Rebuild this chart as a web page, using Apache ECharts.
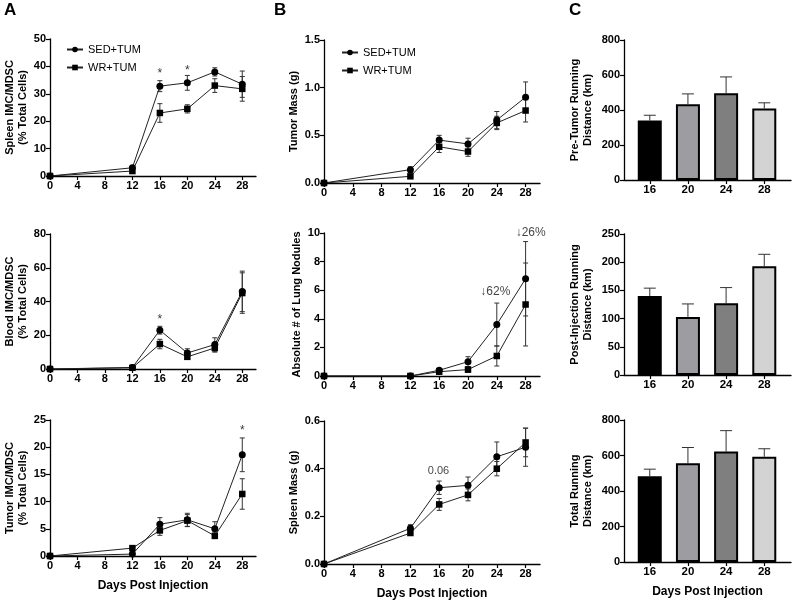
<!DOCTYPE html>
<html>
<head>
<meta charset="utf-8">
<script src="https://cdn.jsdelivr.net/npm/echarts@6/dist/echarts.min.js"></script>
<style>
html, body { margin: 0; padding: 0; background: #fff; }
#chart { width: 794px; height: 602px; }
</style>
</head>
<body>
<div id="chart"></div>
<script>
// time course, days post injection
const days = [0, 12, 16, 20, 24, 28];
const dayTicks = [0, 4, 8, 12, 16, 20, 24, 28];

// A - IMC/MDSC (% total cells)
const spleenMdscSed = [0, 3, 32.8, 34, 38, 33.5];
const spleenMdscSedErr = [0, 0.4, 2, 2.7, 1.5, 4.8];
const spleenMdscWr = [0, 1.8, 23, 24.5, 33, 31.8];
const spleenMdscWrErr = [0, 0.4, 3.4, 1.5, 2.5, 4.5];

const bloodMdscSed = [0, 0.9, 23, 9.5, 14.5, 46];
const bloodMdscSedErr = [0, 0.3, 2.3, 2.5, 4, 12];
const bloodMdscWr = [0, 0.7, 14.8, 7.2, 12.5, 45];
const bloodMdscWrErr = [0, 0.3, 2.8, 1.5, 2.5, 12];

const tumorMdscSed = [0, 0.35, 5.85, 6.65, 5, 18.6];
const tumorMdscSedErr = [0, 0.1, 1.2, 1.2, 1.3, 3.1];
const tumorMdscWr = [0, 1.45, 4.7, 6.5, 3.7, 11.4];
const tumorMdscWrErr = [0, 0.2, 0.9, 1.1, 0.5, 2.8];

// B - tumor / lung / spleen
const tumorMassSed = [0, 0.14, 0.45, 0.41, 0.66, 0.9];
const tumorMassSedErr = [0, 0.03, 0.05, 0.06, 0.09, 0.16];
const tumorMassWr = [0, 0.07, 0.38, 0.33, 0.63, 0.76];
const tumorMassWrErr = [0, 0.02, 0.06, 0.05, 0.07, 0.12];

const lungSed = [0, 0, 0.4, 1.0, 3.6, 6.8];
const lungSedErr = [0, 0, 0.1, 0.35, 1.5, 2.6];
const lungWr = [0, 0, 0.3, 0.45, 1.4, 5.0];
const lungWrErr = [0, 0, 0.1, 0.2, 0.7, 2.9];

const spleenMassSed = [0, 0.15, 0.32, 0.33, 0.45, 0.49];
const spleenMassSedErr = [0, 0.015, 0.028, 0.035, 0.062, 0.08];
const spleenMassWr = [0, 0.13, 0.25, 0.29, 0.40, 0.51];
const spleenMassWrErr = [0, 0.01, 0.025, 0.025, 0.03, 0.06];

// C - running distance (km)
const runDays = [16, 20, 24, 28];
const preTumorKm = [340, 433, 496, 409];
const preTumorErr = [30, 59, 93, 32];
const postInjKm = [140, 103, 127, 193];
const postInjErr = [14, 23, 28, 21];
const totalKm = [483, 556, 622, 593];
const totalErr = [40, 89, 118, 45];
const barColors = ['#000000', '#9d9da1', '#7f7f7f', '#d3d3d3'];

const FONT = 'Liberation Sans, Arial, sans-serif';

const grids = [
  { left: 50, top: 39, width: 206, height: 137 },
  { left: 50, top: 234, width: 206, height: 135 },
  { left: 50, top: 420, width: 206, height: 136 },
  { left: 324, top: 40, width: 216, height: 143 },
  { left: 324, top: 233, width: 216, height: 143 },
  { left: 324, top: 421, width: 216, height: 143 },
  { left: 624, top: 40, width: 167, height: 140 },
  { left: 624, top: 234, width: 167, height: 141 },
  { left: 624, top: 420, width: 167, height: 142 }
].map(g => Object.assign({ outerBoundsMode: 'none' }, g));

const axisLine = { show: true, lineStyle: { color: '#000', width: 1.3 } };
const axisTick = { show: true, length: 4, lineStyle: { color: '#000', width: 1.2 } };
const tickLabel = { color: '#000', fontWeight: 'bold', fontSize: 11, fontFamily: FONT, margin: 4 };

const xAxes = [];
const yAxes = [];
const series = [];

const makeX = (i, last) => {
  xAxes.push({
    type: 'value', gridIndex: i, min: 0, max: 30,
    axisLine: axisLine,
    axisTick: Object.assign({ customValues: dayTicks }, axisTick),
    axisLabel: Object.assign({ customValues: dayTicks }, tickLabel),
    splitLine: { show: false },
    name: last ? 'Days Post Injection' : '',
    nameLocation: 'middle', nameGap: 24,
    nameTextStyle: { color: '#000', fontWeight: 'bold', fontSize: 12, fontFamily: FONT }
  });
};

const makeY = (i, max, step, name, gap) => {
  yAxes.push({
    type: 'value', gridIndex: i, min: 0, max: max, interval: step,
    axisLine: axisLine, axisTick: axisTick,
    axisLabel: Object.assign({
      formatter: v => step < 1 ? v.toFixed(1) : String(v)
    }, tickLabel),
    splitLine: { show: false },
    name: name, nameLocation: 'middle', nameGap: gap,
    nameTextStyle: { color: '#000', fontWeight: 'bold', fontSize: 11, fontFamily: FONT, lineHeight: 13 }
  });
};

const errRender = (upOnly, cap) => (params, api) => {
  const x = api.value(0);
  const lo = api.coord([x, api.value(1)]);
  const hi = api.coord([x, api.value(2)]);
  const style = { stroke: '#333', lineWidth: 1 };
  const kids = [
    { type: 'line', shape: { x1: lo[0], y1: lo[1], x2: hi[0], y2: hi[1] }, style },
    { type: 'line', shape: { x1: hi[0] - cap, y1: hi[1], x2: hi[0] + cap, y2: hi[1] }, style }
  ];
  if (!upOnly) {
    kids.push({ type: 'line', shape: { x1: lo[0] - cap, y1: lo[1], x2: lo[0] + cap, y2: lo[1] }, style });
  }
  return { type: 'group', children: kids };
};

const addErr = (i, xs, vals, errs, upOnly, cap) => {
  const data = [];
  xs.forEach((d, k) => {
    if (errs[k] > 0) data.push([d, upOnly ? vals[k] : vals[k] - errs[k], vals[k] + errs[k]]);
  });
  series.push({
    type: 'custom', xAxisIndex: i, yAxisIndex: i, data: data,
    encode: { x: 0, y: [1, 2] }, renderItem: errRender(upOnly, cap), z: 2, silent: true
  });
};

const addLine = (i, name, symbol, vals, errs) => {
  addErr(i, days, vals, errs, false, 2.5);
  series.push({
    type: 'line', name: name, xAxisIndex: i, yAxisIndex: i,
    data: days.map((d, k) => [d, vals[k]]),
    symbol: symbol, symbolSize: symbol === 'circle' ? 7 : 6.5,
    lineStyle: { color: '#222', width: 1 },
    itemStyle: { color: '#000' }, z: 3
  });
};

const addNote = (i, pts, text, size, color) => {
  series.push({
    type: 'scatter', xAxisIndex: i, yAxisIndex: i, data: pts,
    symbolSize: 0, silent: true, z: 4,
    label: { show: true, position: 'inside', formatter: text, color: color,
      textBorderWidth: 0, fontSize: size, fontFamily: FONT }
  });
};

// panel A
const aPanels = [
  [spleenMdscSed, spleenMdscSedErr, spleenMdscWr, spleenMdscWrErr, 50, 10, 'Spleen IMC/MDSC\n(% Total Cells)'],
  [bloodMdscSed, bloodMdscSedErr, bloodMdscWr, bloodMdscWrErr, 80, 20, 'Blood IMC/MDSC\n(% Total Cells)'],
  [tumorMdscSed, tumorMdscSedErr, tumorMdscWr, tumorMdscWrErr, 25, 5, 'Tumor IMC/MDSC\n(% Total Cells)']
];
aPanels.forEach((p, i) => {
  makeX(i, i === 2);
  makeY(i, p[4], p[5], p[6], 21);
  addLine(i, 'SED+TUM', 'circle', p[0], p[1]);
  addLine(i, 'WR+TUM', 'rect', p[2], p[3]);
});

// panel B
const bPanels = [
  [tumorMassSed, tumorMassSedErr, tumorMassWr, tumorMassWrErr, 1.5, 0.5, 'Tumor Mass (g)'],
  [lungSed, lungSedErr, lungWr, lungWrErr, 10, 2, 'Absolute # of Lung Nodules'],
  [spleenMassSed, spleenMassSedErr, spleenMassWr, spleenMassWrErr, 0.6, 0.2, 'Spleen Mass (g)']
];
bPanels.forEach((p, k) => {
  const i = k + 3;
  makeX(i, k === 2);
  makeY(i, p[4], p[5], p[6], k === 1 ? 17 : 22);
  addLine(i, 'SED+TUM', 'circle', p[0], p[1]);
  addLine(i, 'WR+TUM', 'rect', p[2], p[3]);
});

// significance marks and notes
addNote(0, [[16, 37.5], [20, 38.5]], '*', 12, '#000');
addNote(1, [[16, 29]], '*', 12, '#000');
addNote(2, [[28, 23]], '*', 12, '#000');
addNote(4, [[23.8, 5.9]], '\u219362%', 12, '#111');
addNote(4, [[28.7, 10]], '\u219326%', 12, '#111');
addNote(5, [[15.9, 0.39]], '0.06', 11, '#111');

// panel C
const cPanels = [
  [preTumorKm, preTumorErr, 800, 200, 'Pre-Tumor Running\nDistance (km)'],
  [postInjKm, postInjErr, 250, 50, 'Post-Injection Running\nDistance (km)'],
  [totalKm, totalErr, 800, 200, 'Total Running\nDistance (km)']
];
cPanels.forEach((p, k) => {
  const i = k + 6;
  xAxes.push({
    type: 'value', gridIndex: i, min: 13.3, max: 30.8,
    axisLine: axisLine,
    axisTick: Object.assign({ customValues: runDays }, axisTick),
    axisLabel: Object.assign({ customValues: runDays }, tickLabel, { fontSize: 11.5 }),
    splitLine: { show: false },
    name: k === 2 ? 'Days Post Injection' : '',
    nameLocation: 'middle', nameGap: 24,
    nameTextStyle: { color: '#000', fontWeight: 'bold', fontSize: 12, fontFamily: FONT }
  });
  makeY(i, p[2], p[3], p[4], 30);
  series.push({
    type: 'bar', xAxisIndex: i, yAxisIndex: i, barWidth: 24,
    data: runDays.map((d, j) => ({
      value: [d, p[0][j]],
      itemStyle: { color: barColors[j], borderColor: '#000', borderWidth: 2 }
    })),
    z: 3
  });
  addErr(i, runDays, p[0], p[1], true, 6);
});

const legendBox = (left, top) => ({
  orient: 'vertical', left: left, top: top,
  itemWidth: 16, itemHeight: 7, itemGap: 7,
  textStyle: { color: '#000', fontSize: 11, fontFamily: FONT },
  data: ['SED+TUM', 'WR+TUM'], selectedMode: false
});

const panelLetter = (text, left) => ({
  type: 'text', left: left, top: 2,
  style: { text: text, fontSize: 17, fontWeight: 'bold', fontFamily: FONT, fill: '#000' }
});

const chart = echarts.init(document.getElementById('chart'));
chart.setOption({
  animation: false,
  backgroundColor: '#fff',
  textStyle: { fontFamily: FONT },
  grid: grids,
  xAxis: xAxes,
  yAxis: yAxes,
  legend: [legendBox(61, 39), legendBox(336, 42)],
  graphic: [panelLetter('A', 4), panelLetter('B', 274), panelLetter('C', 569)],
  series: series
});
</script>
</body>
</html>
